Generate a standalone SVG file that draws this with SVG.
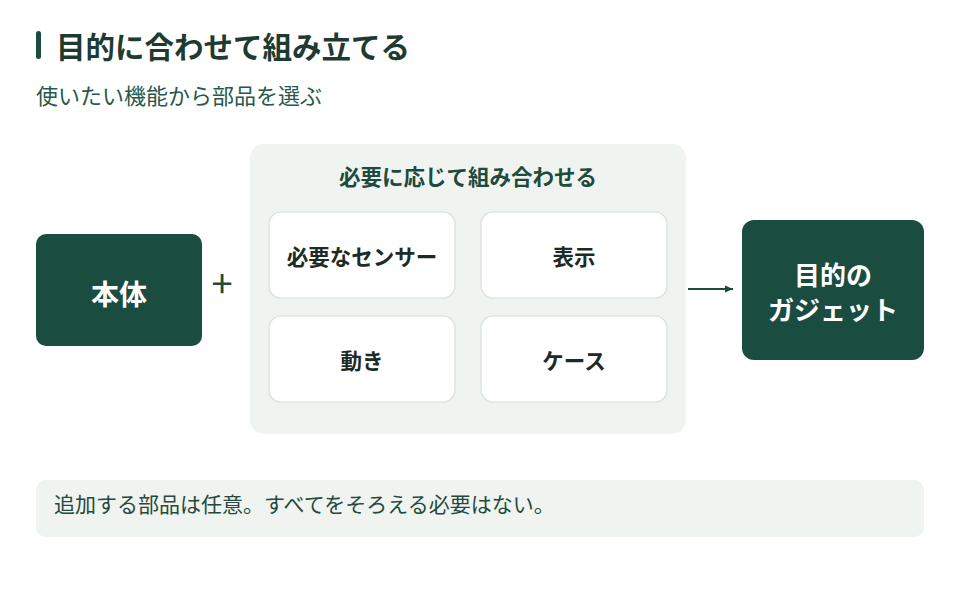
<svg xmlns="http://www.w3.org/2000/svg" width="960" height="592" viewBox="0 0 960 592">
<defs>
<style>
text{font-family:"Noto Sans CJK JP","Noto Sans",sans-serif;}
.dark{fill:#1a4d40;}
.card{fill:#ffffff;stroke:#d6dfda;stroke-width:1.2;}
.panel{fill:#eff4f1;}
.cardt{font-size:21.5px;font-weight:700;fill:#1c2b25;text-anchor:middle;}
.wt{font-size:26px;font-weight:700;fill:#ffffff;text-anchor:middle;}
</style>
<marker id="ah" markerWidth="10" markerHeight="10" refX="9" refY="5" orient="auto" markerUnits="userSpaceOnUse">
<path d="M1,1.5 L9,5 L1,8.5 Z" fill="#1a4d40"/>
</marker>
</defs>
<rect width="960" height="592" fill="#ffffff"/>
<g id="header">
<rect x="36" y="31" width="5" height="28" rx="2.5" fill="#1a4d40"/>
<text x="56" y="58" font-size="29.5" font-weight="700" fill="#1e3a31">目的に合わせて組み立てる</text>
<text x="36" y="104" font-size="22" fill="#27584a">使いたい機能から部品を選ぶ</text>
</g>
<g id="honntai">
<rect class="dark" x="36" y="234" width="166" height="112" rx="10"/>
<text x="119" y="305" font-size="28" font-weight="700" fill="#ffffff" text-anchor="middle">本体</text>
</g>
<g id="plus">
<text x="222" y="298" font-size="38" font-weight="400" fill="#1a4d40" text-anchor="middle">+</text>
</g>
<g id="group">
<rect class="panel" x="250" y="144" width="436" height="290" rx="14"/>
<text x="468" y="185" font-size="21.5" font-weight="700" fill="#1f4a3c" text-anchor="middle">必要に応じて組み合わせる</text>
</g>
<g id="sensor">
<rect class="card" x="269" y="212" width="186" height="86" rx="12"/>
<text class="cardt" x="362" y="265">必要なセンサー</text>
</g>
<g id="display">
<rect class="card" x="481" y="212" width="186" height="86" rx="12"/>
<text class="cardt" x="574" y="265">表示</text>
</g>
<g id="motion">
<rect class="card" x="269" y="316" width="186" height="86" rx="12"/>
<text class="cardt" x="362" y="369">動き</text>
</g>
<g id="case">
<rect class="card" x="481" y="316" width="186" height="86" rx="12"/>
<text class="cardt" x="574" y="369">ケース</text>
</g>
<g id="connectors">
<line x1="688" y1="289" x2="733" y2="289" stroke="#1a4d40" stroke-width="2" marker-end="url(#ah)"/>
</g>
<g id="gadget">
<rect class="dark" x="742" y="220" width="182" height="140" rx="12"/>
<text class="wt" x="833" y="285">目的の</text>
<text class="wt" x="833" y="320">ガジェット</text>
</g>
<g id="note">
<rect class="panel" x="36" y="480" width="888" height="57" rx="10"/>
<text x="54" y="512" font-size="21" fill="#27483d">追加する部品は任意。すべてをそろえる必要はない。</text>
</g>
</svg>
